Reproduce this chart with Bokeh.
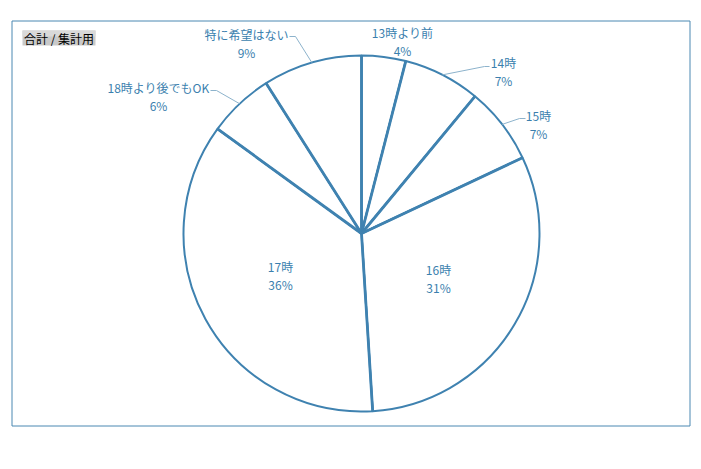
import math
from bokeh.plotting import figure
from bokeh.models import Range1d, ColumnDataSource
from bokeh.core.properties import value
from bokeh.embed import file_html
from bokeh.resources import INLINE

# ---- data ----
categories = ["13時より前", "14時", "15時", "16時", "17時", "18時より後でもOK", "特に希望はない"]
shares = [4, 7, 7, 31, 36, 6, 9]
pct_labels = ["4%", "7%", "7%", "31%", "36%", "6%", "9%"]
title_text = "合計 / 集計用"

# ---- layout (pixel coordinates of the 701x469 page, y measured from top) ----
W, H = 693, 453
def X(px): return px
def Y(py): return 469 - py

CX, CY, R = 361, 233, 178
LINE = "#3f82b0"
TEXT = "#3b7fae"
LEADER = "#8db3cc"
FONT = "Noto Sans CJK JP"

# label centers (name line) per category
label_pos = [(402, 32), (503, 62), (538, 115), (438, 269), (280, 266), (158, 87), (246, 34)]
# leader start points near labels (None = no leader)
leader_start = [None, (489, 66), (525, 118), None, None, (210, 90), (289, 36)]
leader_bend = [None, (484, 66), (519, 118), None, None, (216, 90), (295, 36)]

p = figure(width=W, height=H, output_backend="svg", toolbar_location=None,
           x_range=Range1d(0, W), y_range=Range1d(469 - H, 469),
           min_border=0, outline_line_color=None)
p.axis.visible = False
p.grid.visible = False
p.background_fill_color = "white"
p.border_fill_color = "white"

# chart border
p.quad(left=[X(11.5)], right=[X(689.5)], top=[Y(20.5)], bottom=[Y(425.5)],
       fill_color=None, line_color="#4a88b2", line_width=1)

# title box
p.quad(left=[X(22)], right=[X(95)], top=[Y(30)], bottom=[Y(45)],
       fill_color="#c9c9c9", line_color=None)
p.quad(left=[X(22)], right=[X(95)], top=[Y(30)], bottom=[Y(36)],
       fill_color="#d9d9d9", line_color=None)
p.text(x=[X(58.5)], y=[Y(37.5)], text=[title_text], text_font=value(FONT),
       text_font_size="12px", text_color="black", text_align="center",
       text_baseline="middle")

# pie wedges
total = float(sum(shares))
starts, ends, mids = [], [], []
cum = 0.0
for s in shares:
    a0 = math.pi / 2 - 2 * math.pi * cum / total
    cum += s
    a1 = math.pi / 2 - 2 * math.pi * cum / total
    starts.append(a0)
    ends.append(a1)
    mids.append((a0 + a1) / 2)

src = ColumnDataSource(dict(start=starts, end=ends, cat=categories, share=shares))
p.wedge(x=X(CX), y=Y(CY), radius=R, start_angle="start", end_angle="end",
        direction="clock", source=src, fill_color="white",
        line_color=LINE, line_width=2)

# heavier radial separators
p.segment(x0=[X(CX)] * len(starts), y0=[Y(CY)] * len(starts),
          x1=[X(CX) + R * math.cos(a) for a in starts],
          y1=[Y(CY) + R * math.sin(a) for a in starts],
          line_color=LINE, line_width=2.8)

# leader lines
xs, ys = [], []
for i, m in enumerate(mids):
    if leader_start[i] is None:
        continue
    ax = X(CX) + R * math.cos(m)
    ay = Y(CY) + R * math.sin(m)
    sx, sy = leader_start[i]
    bx, by = leader_bend[i]
    xs.append([X(sx), X(bx), ax])
    ys.append([Y(sy), Y(by), ay])
p.multi_line(xs=xs, ys=ys, line_color=LEADER, line_width=1)

# labels
lx = [X(x) for x, _ in label_pos]
ly = [Y(y) for _, y in label_pos]
ly2 = [Y(y + 18) for _, y in label_pos]
p.text(x=lx, y=ly, text=categories, text_font=value(FONT), text_font_size="12px",
       text_color=TEXT, text_align="center", text_baseline="middle")
p.text(x=lx, y=ly2, text=pct_labels, text_font=value(FONT), text_font_size="12px",
       text_color=TEXT, text_align="center", text_baseline="middle")

open("out.html", "w").write(file_html(p, INLINE))
